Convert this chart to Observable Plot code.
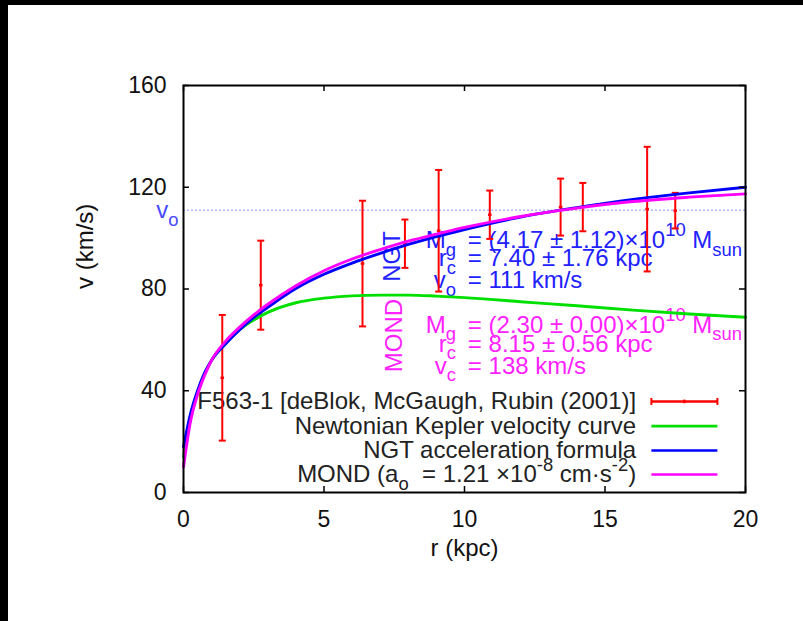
<!DOCTYPE html>
<html><head><meta charset="utf-8">
<script src="https://cdn.jsdelivr.net/npm/d3@7"></script>
<script src="https://cdn.jsdelivr.net/npm/@observablehq/plot@0.6"></script>
<style>
html,body{margin:0;padding:0;background:#fff;width:803px;height:621px;overflow:hidden}
#topbar{position:absolute;left:0;top:0;width:803px;height:5px;background:#000}
#leftbar{position:absolute;left:0;top:0;width:8px;height:621px;background:#000}
#page{position:absolute;left:8px;top:5px;width:795px;height:616px;background:#fff}
</style></head><body><div id="page"></div><div id="topbar"></div><div id="leftbar"></div>
<script>
// ---- data ----
const xTicks = [0, 5, 10, 15, 20];
const yTicks = [0, 40, 80, 120, 160];

// F563-1 rotation curve (de Blok, McGaugh, Rubin 2001)
const obsR   = [1.38, 2.75, 6.37, 7.88, 9.08, 10.9, 13.42, 14.21, 16.5, 17.5];
const obsV   = [45.1, 81.5, 90.0, 97.8, 102.9, 109.2, 112.2, 112.2, 111.4, 110.8];
const obsErr = [24.7, 17.5, 24.7, 9.5, 23.9, 9.5, 11.2, 9.5, 24.5, 7.0];

const curveR  = [0, 0.25, 0.5, 0.75, 1, 1.5, 2, 2.5, 3, 4, 5, 6, 7, 8, 9, 10, 12, 14, 16, 18, 20];
const keplerV = [14, 29, 39, 46.5, 52, 58.5, 64, 67.8, 70.8, 74.6, 76.4, 77.3, 77.6, 77.6, 77.2, 76.6, 75.0, 73.4, 71.7, 70.2, 68.9];
const ngtV    = [18, 31, 40, 47, 52, 58.5, 64, 68.8, 72.8, 80.2, 85.8, 90.2, 94, 97.5, 100.6, 103.4, 108.3, 112, 115.2, 117.8, 120];
const mondV   = [10, 28, 38.5, 46, 52, 59.5, 65, 69.8, 74, 81.3, 87.2, 91.8, 95.5, 98.8, 101.6, 104.2, 108.5, 111.8, 114.4, 116.1, 117.4];

const v0 = 111;
const ngtSymbols  = ["M_{g}", "r_{c}", "v_{o}"];
const ngtValues   = ["= (4.17 ± 1.12)×10^{10} M_{sun}", "= 7.40 ± 1.76 kpc", "= 111 km/s"];
const mondSymbols = ["M_{g}", "r_{c}", "v_{c}"];
const mondValues  = ["= (2.30 ± 0.00)×10^{10} M_{sun}", "= 8.15 ± 0.56 kpc", "= 138 km/s"];
const legendLabels = [
  "F563-1 [deBlok, McGaugh, Rubin (2001)]",
  "Newtonian Kepler velocity curve",
  "NGT acceleration formula",
  "MOND (a_{o}  = 1.21 ×10^{-8} cm·s^{-2})"
];

// ---- styling / layout ----
const RED = "#ff0000", GREEN = "#00e000", BLUE = "#0000ff", MAGENTA = "#ff00ff";
const FS = 23, FSL = 24;
const W = 795, H = 616, ML = 175, MR = 58, MT = 80, MB = 129;
const FW = W - ML - MR, FH = H - MT - MB, TICK = 6;

const obs = obsR.map((r, i) => ({r, v: obsV[i], e: obsErr[i]}));
const curves = [
  {name: "kepler", color: GREEN, v: keplerV},
  {name: "ngt", color: BLUE, v: ngtV},
  {name: "mond", color: MAGENTA, v: mondV}
];
const curveData = curves.flatMap(c => curveR.map((r, i) => ({r, v: c.v[i], name: c.name})));

const hCap = {draw(ctx, size) { const w = Math.sqrt(size / Math.PI); ctx.moveTo(-w, 0); ctx.lineTo(w, 0); }};
const vCap = {draw(ctx, size) { const w = Math.sqrt(size / Math.PI); ctx.moveTo(0, -w); ctx.lineTo(0, w); }};

// annotation anchor positions (data units)
const symX = 9.70, valX = 10.12;
const ngtRowsV = [99.2, 92.1, 83.5];
const mondRowsV = [65.9, 58.4, 49.8];
const legTextX = 16.11, legX1 = 16.65, legX2 = 19.0;
const legRowsV = [35.8, 26.1, 16.5, 7.1];

const ann = (syms, vals, rows, color) => [
  Plot.text(syms.map((t, i) => ({t, v: rows[i]})), {x: () => symX, y: "v", text: "t", textAnchor: "end", fill: color, fontSize: FSL}),
  Plot.text(vals.map((t, i) => ({t, v: rows[i]})), {x: () => valX, y: "v", text: "t", textAnchor: "start", fill: color, fontSize: FSL})
];

const legend = legendLabels.map((t, i) => ({t, v: legRowsV[i], color: [RED, GREEN, BLUE, MAGENTA][i]}));

const chart = Plot.plot({
  width: W, height: H,
  marginLeft: ML, marginRight: MR, marginTop: MT, marginBottom: MB,
  style: {fontFamily: "'Liberation Sans', Arial, Helvetica, sans-serif", fontSize: FS + "px", background: "white", color: "#111"},
  x: {domain: [0, 20]},
  y: {domain: [0, 160]},
  marks: [
    Plot.axisX({ticks: xTicks, tickSize: 0, tickPadding: 18, label: null, fontSize: FS, tickFormat: d => String(d)}),
    Plot.axisY({ticks: yTicks, tickSize: 0, tickPadding: 17, label: null, fontSize: FS, tickFormat: d => String(d)}),
    Plot.text(["v (km/s)"], {frameAnchor: "left", dx: -98, rotate: -90, text: d => d, fontSize: FSL, fill: "#111"}),
    Plot.text(["r (kpc)"], {frameAnchor: "bottom", dy: 63, text: d => d, fontSize: FSL, fill: "#111"}),
    // v_o reference line
    Plot.ruleY([v0], {stroke: "#7777ff", strokeWidth: 1, strokeDasharray: "2,2", strokeOpacity: 0.8}),
    Plot.text([v0], {x: () => -0.18, y: d => d, text: () => "v_{o}", textAnchor: "end", fill: "#4a4aff", fontSize: FSL}),
    // annotations
    Plot.text(["NGT"], {x: () => 7.42, y: () => 92.8, text: d => d, rotate: -90, fill: "#2222ff", fontSize: FSL}),
    Plot.text(["MOND"], {x: () => 7.49, y: () => 61.7, text: d => d, rotate: -90, fill: "#ff22ff", fontSize: FSL}),
    ...ann(ngtSymbols, ngtValues, ngtRowsV, "#2222ff"),
    ...ann(mondSymbols, mondValues, mondRowsV, "#ff22ff"),
    // legend text
    Plot.text(legend, {x: () => legTextX, y: "v", text: "t", textAnchor: "end", fill: "#222", fontSize: FSL}),
    // error bars
    Plot.ruleX(obs, {x: "r", y1: d => d.v - d.e, y2: d => d.v + d.e, stroke: RED, strokeWidth: 2}),
    Plot.dot(obs, {x: "r", y: d => d.v - d.e, symbol: hCap, r: 3.5, stroke: RED, strokeWidth: 2, fill: "none"}),
    Plot.dot(obs, {x: "r", y: d => d.v + d.e, symbol: hCap, r: 3.5, stroke: RED, strokeWidth: 2, fill: "none"}),
    Plot.dot(obs, {x: "r", y: "v", symbol: hCap, r: 1.8, stroke: RED, strokeWidth: 2.5, fill: "none"}),
    // model curves
    Plot.line(curveData, {x: "r", y: "v", z: "name", stroke: d => d.name, strokeWidth: 2.9, curve: "monotone-x"}),
    // legend samples
    Plot.link(legend, {x1: () => legX1, x2: () => legX2, y1: "v", y2: "v", stroke: "color", strokeWidth: 2.6}),
    Plot.dot(legend.slice(0, 1), {x: () => legX1, y: "v", symbol: vCap, r: 3.5, stroke: RED, strokeWidth: 2}),
    Plot.dot(legend.slice(0, 1), {x: () => legX2, y: "v", symbol: vCap, r: 3.5, stroke: RED, strokeWidth: 2}),
    Plot.dot(legend.slice(0, 1), {x: () => (legX1 + legX2) / 2, y: "v", symbol: vCap, r: 1.8, stroke: RED, strokeWidth: 2.5}),
    // inward ticks (gnuplot style, mirrored)
    Plot.tickX(xTicks, {x: d => d, insetTop: FH - TICK, stroke: "#000", strokeWidth: 1.5}),
    Plot.tickX(xTicks, {x: d => d, insetBottom: FH - TICK, stroke: "#000", strokeWidth: 1.5}),
    Plot.tickY(yTicks, {y: d => d, insetRight: FW - TICK, stroke: "#000", strokeWidth: 1.5}),
    Plot.tickY(yTicks, {y: d => d, insetLeft: FW - TICK, stroke: "#000", strokeWidth: 1.5}),
    Plot.frame({stroke: "#000", strokeWidth: 2})
  ],
  color: {domain: ["kepler", "ngt", "mond"], range: [GREEN, BLUE, MAGENTA]}
});

document.getElementById("page").appendChild(chart);

// enhanced-text: _{sub} and ^{sup}
const SVGNS = "http://www.w3.org/2000/svg";
function richText(el) {
  const s = el.textContent;
  if (!/[_^]\{/.test(s)) return;
  const base = parseFloat(el.getAttribute("font-size")) || FS;
  el.textContent = "";
  const re = /([_^])\{([^}]*)\}/g;
  let last = 0, m, shift = 0;
  const add = (txt, kind) => {
    const t = document.createElementNS(SVGNS, "tspan");
    const target = kind === "sub" ? 0.34 * base : kind === "sup" ? -0.5 * base : 0;
    const dy = target - shift;
    if (dy) t.setAttribute("dy", dy.toFixed(2));
    shift = target;
    if (kind) t.setAttribute("font-size", (0.8 * base).toFixed(1));
    t.textContent = txt;
    el.appendChild(t);
  };
  while ((m = re.exec(s))) {
    if (m.index > last) add(s.slice(last, m.index), null);
    add(m[2], m[1] === "_" ? "sub" : "sup");
    last = re.lastIndex;
  }
  if (last < s.length) add(s.slice(last), null);
}
chart.querySelectorAll("text").forEach(richText);
</script>
</body></html>
